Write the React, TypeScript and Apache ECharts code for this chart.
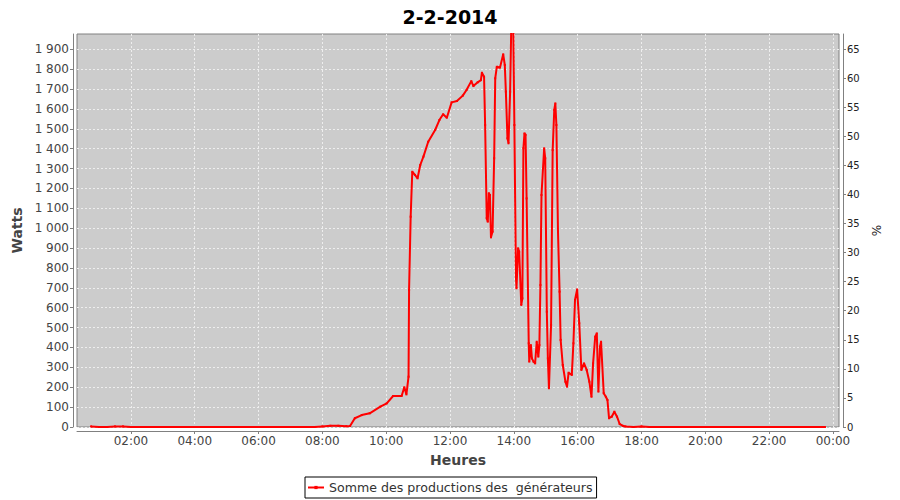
import React, { useEffect, useRef } from "react";
import * as echarts from "echarts";

const chartTitle = "2-2-2014";
const seriesName = "Somme des productions des  générateurs";

const times = [
  "00:45", "01:00", "01:15", "01:30", "01:45", "02:00", "02:15", "02:30", "02:45", "03:00",
  "03:15", "03:30", "03:45", "04:00", "04:15", "04:30", "04:45", "05:00", "05:15", "05:30",
  "05:45", "06:00", "06:15", "06:30", "06:45", "07:00", "07:15", "07:30", "07:45", "08:00",
  "08:15", "08:30", "08:45", "08:52", "09:01", "09:14", "09:29", "09:49", "10:01", "10:13",
  "10:29", "10:34", "10:38", "10:42", "10:43", "10:46", "10:49", "10:54", "10:59", "11:04",
  "11:10", "11:19", "11:32", "11:40", "11:47", "11:54", "12:03", "12:13", "12:24", "12:31",
  "12:40", "12:44", "12:52", "12:58", "13:00", "13:04", "13:06", "13:09", "13:11", "13:13",
  "13:15", "13:17", "13:20", "13:23", "13:25", "13:28", "13:34", "13:40", "13:43", "13:45",
  "13:48", "13:50", "13:53", "13:55", "13:59", "14:01", "14:04", "14:05", "14:08", "14:10",
  "14:14", "14:16", "14:18", "14:20", "14:22", "14:24", "14:28", "14:29", "14:32", "14:34",
  "14:37", "14:40", "14:43", "14:46", "14:48", "14:50", "14:52", "14:57", "14:59", "15:02",
  "15:04", "15:06", "15:10", "15:13", "15:16", "15:18", "15:20", "15:23", "15:26", "15:28",
  "15:32", "15:37", "15:40", "15:43", "15:49", "15:52", "15:55", "15:59", "16:03", "16:07",
  "16:12", "16:17", "16:22", "16:26", "16:29", "16:33", "16:36", "16:39", "16:42", "16:44",
  "16:49", "16:53", "16:56", "16:59", "17:04", "17:09", "17:14", "17:19", "17:26", "17:30",
  "17:45", "18:00", "18:15", "18:30", "18:45", "19:00", "19:15", "19:30", "19:45", "20:00",
  "20:15", "20:30", "20:45", "21:00", "21:15", "21:30", "21:45", "22:00", "22:15", "22:30",
  "22:45", "23:00", "23:15", "23:30", "23:45",
];

const watts = [
  3, 0, 0, 3, 3, 0, 0, 0, 0, 0,
  0, 0, 0, 0, 0, 0, 0, 0, 0, 0,
  0, 0, 0, 0, 0, 0, 0, 0, 0, 3,
  6, 6, 4, 5, 44, 60, 69, 102, 119, 156,
  156, 200, 164, 253, 689, 1058, 1284, 1268, 1251, 1318,
  1360, 1435, 1494, 1544, 1573, 1556, 1633, 1640, 1667, 1695,
  1740, 1715, 1734, 1745, 1782, 1762, 1519, 1050, 1033, 1176,
  1167, 954, 983, 1352, 1754, 1812, 1808, 1875, 1821, 1687,
  1452, 1427, 1687, 1990, 1990, 1519, 748, 698, 899, 882,
  614, 647, 1402, 1477, 1470, 1150, 421, 329, 412, 345,
  329, 320, 429, 354, 412, 714, 1167, 1402, 1352, 580,
  345, 195, 513, 1393, 1595, 1628, 1519, 983, 681, 438,
  312, 228, 203, 273, 262, 421, 639, 692, 522, 287,
  320, 287, 228, 152, 320, 454, 471, 178, 404, 429,
  170, 152, 136, 44, 52, 77, 52, 15, 5, 3,
  0, 3, 0, 0, 0, 0, 0, 0, 0, 0,
  0, 0, 0, 0, 0, 0, 0, 0, 0, 0,
  0, 0, 0, 0, 0,
];

const hourTicks = [2, 4, 6, 8, 10, 12, 14, 16, 18, 20, 22, 24];
const wattTicks = [0, 100, 200, 300, 400, 500, 600, 700, 800, 900, 1000, 1100, 1200, 1300, 1400, 1500, 1600, 1700, 1800, 1900];
const percentTicks = [0, 5, 10, 15, 20, 25, 30, 35, 40, 45, 50, 55, 60, 65];

const FONT = "DejaVu Sans";

function toHours(t: string): number {
  const [h, m] = t.split(":").map(Number);
  return h + m / 60;
}

function fmtHour(v: number): string {
  const h = Math.round(v) % 24;
  return (h < 10 ? "0" : "") + h + ":00";
}

function fmtWatt(v: number): string {
  if (v >= 1000) {
    const th = Math.floor(v / 1000);
    const rest = String(v % 1000).padStart(3, "0");
    return th + " " + rest;
  }
  return String(v);
}

export default function App() {
  const ref = useRef<HTMLDivElement>(null);

  useEffect(() => {
    if (!ref.current) return;
    const chart = echarts.init(ref.current, null, { renderer: "svg" });
    const data = times.map((t, i) => [toHours(t), watts[i]]);
    chart.setOption({
      animation: false,
      backgroundColor: "#ffffff",
      title: {
        text: chartTitle,
        left: "center",
        top: 2,
        textStyle: { fontFamily: FONT, fontSize: 19, fontWeight: "bold", color: "#000" },
      },
      legend: {
        show: true,
        data: [seriesName],
        left: 305,
        top: 477,
        borderColor: "#000",
        borderWidth: 1,
        padding: [4, 4, 4, 2],
        itemWidth: 16,
        itemHeight: 4,
        textStyle: { fontFamily: FONT, fontSize: 12.6, color: "#333" },
      },
      grid: {
        left: 77,
        right: 61,
        top: 34,
        bottom: 73,
        show: true,
        backgroundColor: "#cccccc",
        borderColor: "#808080",
        borderWidth: 1,
      },
      xAxis: {
        type: "value",
        min: 0.31,
        max: 24.19,
        offset: 4,
        name: "Heures",
        nameLocation: "middle",
        nameGap: 22,
        nameTextStyle: { fontFamily: FONT, fontSize: 14, fontWeight: "bold", color: "#444" },
        axisLine: { show: true, onZero: false, lineStyle: { color: "#808080" } },
        axisTick: { show: true, length: 3, customValues: hourTicks, lineStyle: { color: "#808080" } },
        axisLabel: {
          customValues: hourTicks,
          formatter: (v: number) => fmtHour(v),
          fontFamily: FONT,
          fontSize: 12,
          color: "#444",
          margin: 4,
        },
        splitLine: { show: true, lineStyle: { color: "#eeeeee", width: 1, type: [2, 2] } },
      },
      yAxis: [
        {
          type: "value",
          position: "left",
          min: 0,
          max: 1977,
          offset: 4,
          name: "Watts",
          nameLocation: "middle",
          nameGap: 46,
          nameTextStyle: { fontFamily: FONT, fontSize: 14, fontWeight: "bold", color: "#444" },
          axisLine: { show: true, lineStyle: { color: "#808080" } },
          axisTick: { show: true, length: 3, customValues: wattTicks, lineStyle: { color: "#808080" } },
          axisLabel: {
            customValues: wattTicks,
            formatter: (v: number) => fmtWatt(v),
            fontFamily: FONT,
            fontSize: 12,
            color: "#444",
            margin: 4,
          },
          splitLine: { show: true, lineStyle: { color: "#eeeeee", width: 1, type: [2, 2] } },
        },
        {
          type: "value",
          position: "right",
          min: 0,
          max: 67.6,
          offset: 4,
          name: "%",
          nameLocation: "middle",
          nameGap: 25,
          nameTextStyle: { fontFamily: FONT, fontSize: 12, color: "#222" },
          axisLine: { show: true, lineStyle: { color: "#808080" } },
          axisTick: { show: true, length: 3, customValues: percentTicks, lineStyle: { color: "#808080" } },
          axisLabel: {
            customValues: percentTicks,
            fontFamily: FONT,
            fontSize: 10,
            color: "#222",
            margin: 4,
          },
          splitLine: { show: false },
        },
      ],
      series: [
        {
          name: seriesName,
          type: "line",
          yAxisIndex: 0,
          data,
          clip: true,
          showSymbol: true,
          symbol: "rect",
          symbolSize: 2,
          lineStyle: { color: "#ff0000", width: 2 },
          itemStyle: { color: "#ff0000" },
        },
      ],
    });
    return () => chart.dispose();
  }, []);

  return (
    <div
      ref={ref}
      style={{ position: "fixed", left: 0, top: 0, width: 900, height: 500, background: "#fff" }}
    />
  );
}
